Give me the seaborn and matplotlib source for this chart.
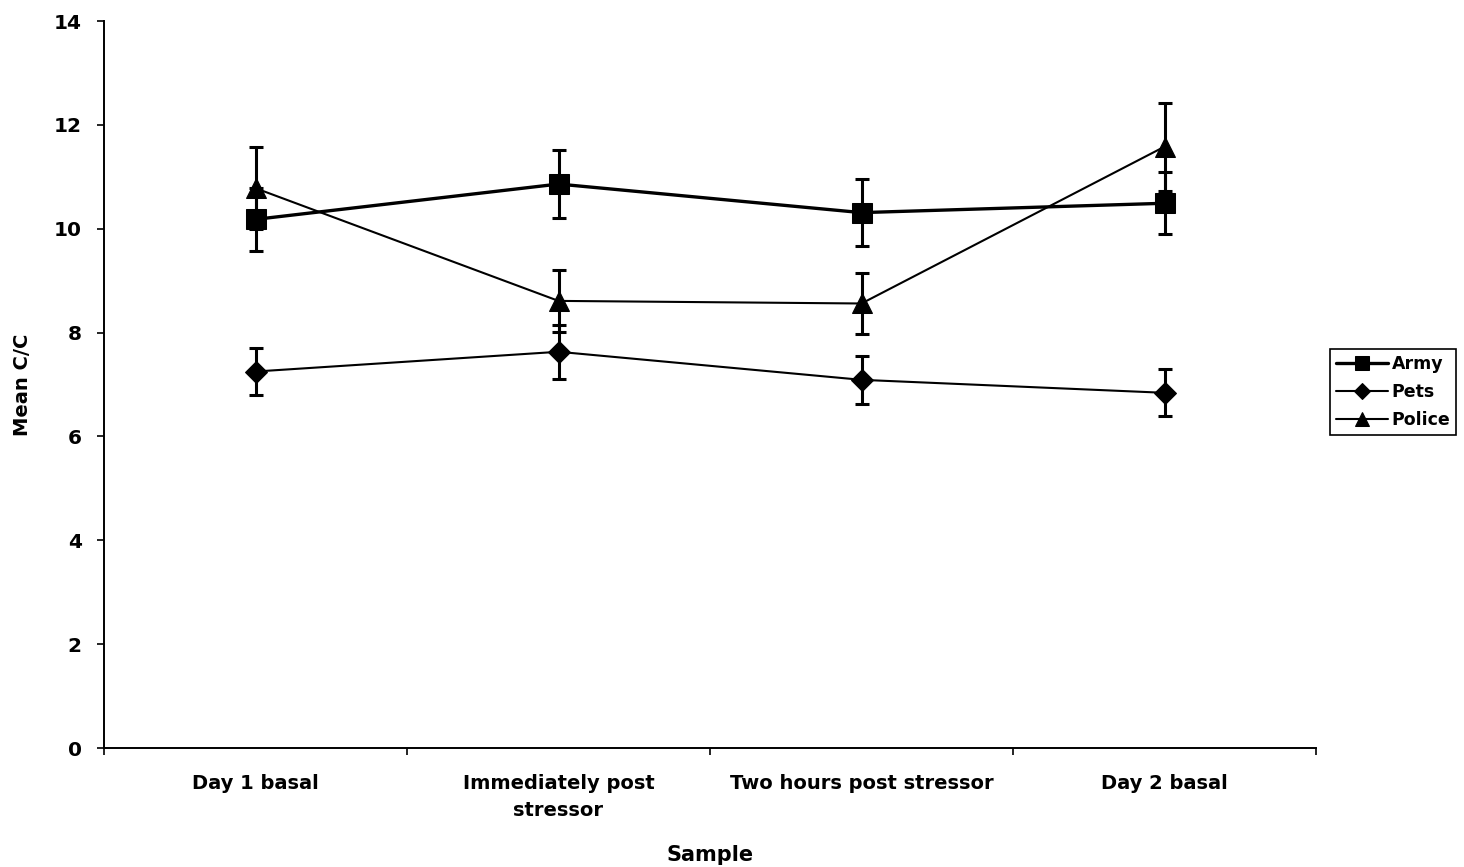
import matplotlib
matplotlib.use("Agg")
import matplotlib.pyplot as plt
from matplotlib.ticker import FixedLocator
import seaborn as sns
import pandas as pd

# Sampling occasions
samples = ["Day 1 basal", "Immediately post\nstressor", "Two hours post stressor", "Day 2 basal"]

# Group means and standard errors of C/C
army_mean = [10.18, 10.86, 10.31, 10.49]
army_err = [0.60, 0.65, 0.65, 0.60]
pets_mean = [7.25, 7.63, 7.09, 6.84]
pets_err = [0.46, 0.52, 0.46, 0.45]
police_mean = [10.78, 8.61, 8.56, 11.58]
police_err = [0.79, 0.60, 0.59, 0.85]

groups = ["Army", "Pets", "Police"]
markers = {"Army": "s", "Pets": "D", "Police": "^"}
marker_sizes = {"Army": 14, "Pets": 11, "Police": 14}
line_widths = {"Army": 2.4, "Pets": 1.5, "Police": 1.5}

rows = []
for g, means, errs in [("Army", army_mean, army_err),
                       ("Pets", pets_mean, pets_err),
                       ("Police", police_mean, police_err)]:
    for i, (m, e) in enumerate(zip(means, errs)):
        rows.append({"group": g, "pos": i, "mean": m, "err": e})
df = pd.DataFrame(rows)

sns.set_style("white")
plt.rcParams["font.family"] = ["DejaVu Sans"]
plt.rcParams["text.color"] = "black"
plt.rcParams["axes.labelcolor"] = "black"
plt.rcParams["xtick.color"] = "black"
plt.rcParams["ytick.color"] = "black"

fig = plt.figure(figsize=(14.64, 8.67), dpi=100)
ax = fig.add_axes([104 / 1464, 1 - 748 / 867, (1316 - 104) / 1464, (748 - 21) / 867])

for g in groups:
    sub = df[df["group"] == g]
    ax.errorbar(sub["pos"], sub["mean"], yerr=sub["err"], fmt="none",
                ecolor="black", elinewidth=2.2, capsize=4.8, capthick=2.2, zorder=2)
    sns.lineplot(data=sub, x="pos", y="mean", ax=ax, color="black",
                 marker=markers[g], markersize=marker_sizes[g],
                 markeredgecolor="black", linewidth=line_widths[g],
                 label=g, zorder=3)

ax.set_xlim(-0.5, 3.5)
ax.set_ylim(0, 14)
ax.set_yticks([0, 2, 4, 6, 8, 10, 12, 14])
ax.set_xticks(range(len(samples)))
ax.set_xticklabels(samples, fontsize=14, fontweight="bold", linespacing=1.5)
ax.xaxis.set_minor_locator(FixedLocator([-0.5, 0.5, 1.5, 2.5, 3.5]))
ax.tick_params(axis="x", which="major", bottom=True, length=0, pad=19)
ax.tick_params(axis="x", which="minor", bottom=True, length=5, width=1.2, direction="out")
ax.tick_params(axis="y", left=True, length=5, width=1.2, direction="out",
               labelsize=14.5, pad=11)
for lab in ax.get_yticklabels():
    lab.set_fontweight("bold")

for side in ["top", "right"]:
    ax.spines[side].set_visible(False)
for side in ["left", "bottom"]:
    ax.spines[side].set_color("black")
    ax.spines[side].set_linewidth(1.4)

ax.set_xlabel("Sample", fontsize=15, fontweight="bold")
ax.xaxis.set_label_coords(0.5, -0.134)
ax.set_ylabel("Mean C/C", fontsize=14, fontweight="bold")
ax.yaxis.set_label_coords(-0.059, 0.5)

ax.get_legend().remove()
handles, labels = ax.get_legend_handles_labels()
leg = fig.legend(handles, labels, loc="center left",
                 bbox_to_anchor=(1330 / 1464, 1 - 392 / 867),
                 borderaxespad=0.0,
                 frameon=True, fancybox=False,
                 prop={"size": 12.5, "weight": "bold"},
                 handlelength=3.0, handletextpad=0.2, borderpad=0.35,
                 labelspacing=0.6, markerscale=0.75)
leg.get_frame().set_edgecolor("black")
leg.get_frame().set_linewidth(1.2)
leg.get_frame().set_alpha(1)

fig.savefig("out.png", dpi=100)
